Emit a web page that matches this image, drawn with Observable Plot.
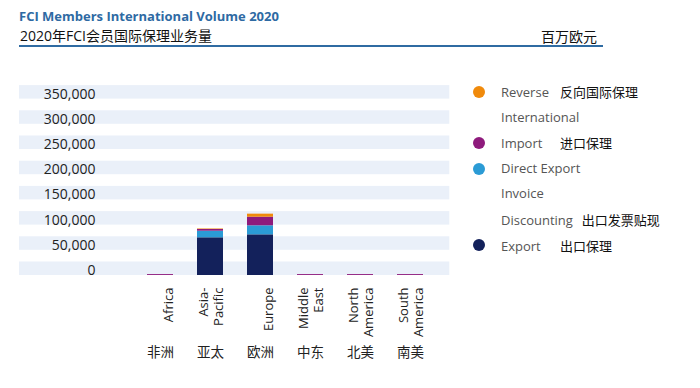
<!DOCTYPE html>
<html>
<head>
<meta charset="utf-8">
<script src="https://cdn.jsdelivr.net/npm/d3@7"></script>
<script src="https://cdn.jsdelivr.net/npm/@observablehq/plot@0.6"></script>
<style>
  html, body { margin: 0; padding: 0; background: #fff; }
  body { width: 700px; height: 388px; position: relative; overflow: hidden; font-family: "Open Sans", "Noto Sans CJK SC", sans-serif; }
  #header { position: relative; height: 50px; }
  #title { position: absolute; left: 19px; top: 7px; font-size: 13px; font-weight: bold; color: #2e6aa3; line-height: 18px; white-space: nowrap; }
  #subtitle { position: absolute; left: 20px; top: 26px; font-size: 14px; color: #111; line-height: 20px; white-space: nowrap; font-family: "Open Sans", "Noto Sans CJK SC", sans-serif; }
  #unit { position: absolute; left: 541px; top: 26px; font-size: 14px; color: #111; line-height: 20px; white-space: nowrap; font-family: "Noto Sans CJK SC", sans-serif; }
  #rule { position: absolute; left: 19px; top: 45px; width: 584px; height: 2px; background: #2f6ba2; }
  #chart svg { display: block; }
  #legend { position: absolute; left: 473px; top: 79px; font-size: 13px; line-height: 25.6px; }
  .lrow { position: relative; height: 25.6px; white-space: nowrap; }
  .dot { position: absolute; left: 0px; top: 6.8px; width: 12px; height: 12px; border-radius: 50%; }
  .en { position: absolute; left: 28px; top: 0; color: #555; font-family: "Open Sans", sans-serif; }
  .en span.w { display: inline-block; min-width: 50px; }
  .zh { color: #111; margin-left: 9px; font-family: "Noto Sans CJK SC", sans-serif; }
</style>
</head>
<body>
<div id="header">
  <div id="title"></div>
  <div id="subtitle"></div>
  <div id="unit"></div>
  <div id="rule"></div>
</div>
<div id="chart"></div>
<div id="legend"></div>
<script>
// ---- data ----
const titleText = "FCI Members International Volume 2020";
const subtitleText = "2020年FCI会员国际保理业务量";
const unitText = "百万欧元";

const regions = ["Africa", "Asia-Pacific", "Europe", "Middle East", "North America", "South America"];
const regionLabels = ["Africa", "Asia-\nPacific", "Europe", "Middle\nEast", "North\nAmerica", "South\nAmerica"];
const regionLabelsZh = ["非洲", "亚太", "欧洲", "中东", "北美", "南美"];

const series = ["Export", "Direct Export Invoice Discounting", "Import", "Reverse International"];
const seriesZh = ["出口保理", "出口发票贴现", "进口保理", "反向国际保理"];
const seriesColors = ["#13215b", "#2b9bd5", "#8e1a7c", "#f08a0b"];

const exportValues  = [0, 74800, 80700, 0, 0, 0];
const directValues  = [0, 13100, 17900, 0, 0, 0];
const importValues  = [1800, 3400, 17100, 1800, 1800, 1800];
const reverseValues = [0, 1000, 6000, 0, 0, 0];

const yTicks = [0, 50000, 100000, 150000, 200000, 250000, 300000, 350000];

// legend text lines (top to bottom)
const legendOrder = ["Reverse International", "Import", "Direct Export Invoice Discounting", "Export"];
const legendLines = [["Reverse", "International"], ["Import"], ["Direct Export", "Invoice", "Discounting"], ["Export"]];
const legendZhLine = [0, 0, 2, 0];

// ---- build table ----
const valueSets = [exportValues, directValues, importValues, reverseValues];
const rows = [];
series.forEach((s, si) => {
  regions.forEach((r, ri) => rows.push({region: r, series: s, value: valueSets[si][ri]}));
});

document.getElementById("title").textContent = titleText;
document.getElementById("subtitle").textContent = subtitleText;
document.getElementById("unit").textContent = unitText;

const chart = Plot.plot({
  width: 700,
  height: 338,
  marginLeft: 121,
  marginRight: 250.7,
  marginTop: 48.6,
  marginBottom: 113,
  style: {fontFamily: "'Open Sans', 'Noto Sans CJK SC', sans-serif", background: "transparent"},
  x: {domain: regions, padding: 0.486, axis: null},
  y: {domain: [0, 350000], axis: null, label: null},
  color: {domain: series, range: seriesColors},
  marks: [
    Plot.rect(yTicks, {y1: d => d, y2: d => d, insetTop: -13.5, insetLeft: -102, fill: "#eaf0f9"}),
    Plot.axisY({ticks: yTicks, tickSize: 0, tickPadding: 26, tickFormat: d3.format(","), fontSize: 14, fill: "#222", dy: -5, label: null}),
    Plot.barY(rows, {x: "region", y: "value", fill: "series", order: series}),
    Plot.text(regions, {
      x: d => d,
      text: (d, i) => regionLabels[i],
      frameAnchor: "bottom",
      rotate: -90,
      textAnchor: "end",
      lineAnchor: "bottom",
      lineHeight: 1.12,
      dx: 12,
      dy: 12,
      fontSize: 13,
      fill: "#222"
    }),
    Plot.text(regions, {
      x: d => d,
      text: (d, i) => regionLabelsZh[i],
      frameAnchor: "bottom",
      dy: 81,
      fontSize: 13.5,
      fill: "#222",
      fontFamily: "Noto Sans CJK SC"
    })
  ]
});
document.getElementById("chart").appendChild(chart);

// ---- legend ----
const legend = document.getElementById("legend");
legendOrder.forEach((s, k) => {
  const si = series.indexOf(s);
  legendLines[k].forEach((line, li) => {
    const row = document.createElement("div");
    row.className = "lrow";
    if (li === 0) {
      const dot = document.createElement("div");
      dot.className = "dot";
      dot.style.background = seriesColors[si];
      row.appendChild(dot);
    }
    const en = document.createElement("div");
    en.className = "en";
    const w = document.createElement("span");
    w.className = "w";
    w.textContent = line;
    en.appendChild(w);
    if (li === legendZhLine[k]) {
      const zh = document.createElement("span");
      zh.className = "zh";
      zh.textContent = seriesZh[si];
      en.appendChild(zh);
    }
    row.appendChild(en);
    legend.appendChild(row);
  });
});
</script>
</body>
</html>
